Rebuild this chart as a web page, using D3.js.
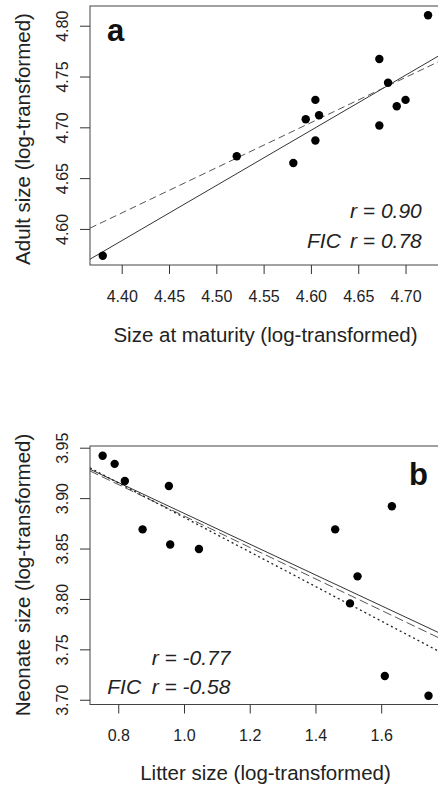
<!DOCTYPE html>
<html>
<head>
<meta charset="utf-8">
<title>Size correlations</title>
<script src="https://d3js.org/d3.v7.min.js"></script>
<style>
  body { margin: 0; background: #fff; }
  svg { display: block; font-family: "Liberation Sans", Arial, sans-serif; }
  .tick line, .domain { stroke: #333; }
</style>
</head>
<body>
<script>
// panel a: size at maturity vs adult size
var maturityA = [4.380, 4.5216, 4.5814, 4.5945, 4.6047, 4.6086, 4.6047, 4.6723, 4.6723, 4.6815, 4.6907, 4.700, 4.7238];
var adultA    = [4.5736, 4.6715, 4.6649, 4.708, 4.727, 4.7119, 4.687, 4.7672, 4.7018, 4.7438, 4.7208, 4.727, 4.8103];
var xTicksA = [4.40, 4.45, 4.50, 4.55, 4.60, 4.65, 4.70];
var yTicksA = [4.60, 4.65, 4.70, 4.75, 4.80];
// fitted lines: [intercept, slope]
var fitSolidA  = [2.1992, 0.543];
var fitDashedA = [2.6590, 0.4447];

// panel b: litter size vs neonate size
var litterB  = [0.7525, 0.789, 0.820, 0.954, 0.874, 0.958, 1.0455, 1.460, 1.6325, 1.528, 1.505, 1.611, 1.744];
var neonateB = [3.942, 3.934, 3.917, 3.912, 3.869, 3.854, 3.8495, 3.869, 3.892, 3.8224, 3.7956, 3.7235, 3.704];
var xTicksB = [0.8, 1.0, 1.2, 1.4, 1.6];
var yTicksB = [3.70, 3.75, 3.80, 3.85, 3.90, 3.95];
var fitSolidB  = [4.0377, -0.15275];
var fitDashedB = [4.0383, -0.15596];
var fitDottedB = [4.0523, -0.17136];

var W = 438, H = 787;
var svg = d3.select("body").append("svg").attr("width", W).attr("height", H);

function panel(cfg) {
  var x = d3.scaleLinear().domain(cfg.xlim).range([90, cfg.right]);
  var y = d3.scaleLinear().domain(cfg.ylim).range([cfg.bottom, cfg.top]);
  var g = svg.append("g");

  g.append("clipPath").attr("id", cfg.id + "clip")
    .append("rect").attr("x", 90).attr("y", cfg.top)
    .attr("width", cfg.right - 90).attr("height", cfg.bottom - cfg.top);

  // fitted lines
  cfg.fits.forEach(function(f) {
    g.append("line")
      .attr("clip-path", "url(#" + cfg.id + "clip)")
      .attr("x1", x(cfg.xlim[0])).attr("y1", y(f.c[0] + f.c[1] * cfg.xlim[0]))
      .attr("x2", x(cfg.xlim[1])).attr("y2", y(f.c[0] + f.c[1] * cfg.xlim[1]))
      .attr("stroke", f.color).attr("stroke-width", f.w)
      .attr("stroke-dasharray", f.dash);
  });

  // points
  g.selectAll("circle.pt").data(cfg.xs).enter().append("circle")
    .attr("class", "pt")
    .attr("cx", function(d) { return x(d); })
    .attr("cy", function(d, i) { return y(cfg.ys[i]); })
    .attr("r", 4.2).attr("fill", "#000");

  // box
  g.append("rect").attr("x", 90).attr("y", cfg.top)
    .attr("width", cfg.right - 90).attr("height", cfg.bottom - cfg.top)
    .attr("fill", "none").attr("stroke", "#444").attr("stroke-width", 1);

  // axes
  var xa = g.append("g").attr("transform", "translate(0," + cfg.bottom + ")")
    .call(d3.axisBottom(x).tickValues(cfg.xticks).tickSize(9).tickPadding(16.5)
      .tickFormat(d3.format(cfg.xfmt)));
  xa.select(".domain").remove();
  xa.selectAll("text").attr("font-size", 16).attr("fill", "#222").attr("font-family", null);

  var ya = g.append("g").attr("transform", "translate(90,0)")
    .call(d3.axisLeft(y).tickValues(cfg.yticks).tickSize(10).tickFormat(d3.format(".2f")));
  ya.select(".domain").remove();
  ya.selectAll("text")
    .attr("x", 0).attr("dy", null).attr("y", -22.5)
    .attr("transform", "rotate(-90)")
    .attr("text-anchor", "middle")
    .attr("font-size", 16).attr("fill", "#222").attr("font-family", null);

  // axis titles
  g.append("text").attr("x", 265.5).attr("y", cfg.xtitleY)
    .attr("text-anchor", "middle").attr("font-size", 20.5).attr("fill", "#222")
    .text(cfg.xtitle);
  g.append("text")
    .attr("transform", "translate(29.5," + cfg.ytitleY + ") rotate(-90)")
    .attr("text-anchor", "middle").attr("font-size", 20.5).attr("fill", "#222")
    .text(cfg.ytitle);

  // panel letter
  g.append("text").attr("x", cfg.letter[1]).attr("y", cfg.letter[2])
    .attr("font-size", 31).attr("font-weight", "bold").attr("fill", "#111")
    .text(cfg.letter[0]);

  // correlation notes
  cfg.notes.forEach(function(n) {
    g.append("text").attr("x", n[1]).attr("y", n[2])
      .attr("font-size", 21).attr("font-style", "italic").attr("fill", "#222")
      .text(n[0]);
  });
}

panel({
  id: "a", xlim: [4.3665, 4.738], ylim: [4.5645, 4.8194],
  right: 441.5, top: 6, bottom: 265,
  xs: maturityA, ys: adultA, xticks: xTicksA, yticks: yTicksA, xfmt: ".2f",
  fits: [
    { c: fitSolidA, color: "#333", w: 1, dash: null },
    { c: fitDashedA, color: "#555", w: 1, dash: "7,4" }
  ],
  xtitle: "Size at maturity (log-transformed)", xtitleY: 341.5,
  ytitle: "Adult size (log-transformed)", ytitleY: 139,
  letter: ["a", 107, 40.5],
  notes: [["r = 0.90", 350, 218.3], ["FIC", 307, 247.7], ["r = 0.78", 350, 247.7]]
});

panel({
  id: "b", xlim: [0.714, 1.785], ylim: [3.6953, 3.9517],
  right: 442, top: 446, bottom: 704.5,
  xs: litterB, ys: neonateB, xticks: xTicksB, yticks: yTicksB, xfmt: ".1f",
  fits: [
    { c: fitSolidB, color: "#333", w: 1, dash: null },
    { c: fitDashedB, color: "#555", w: 1, dash: "9,4" },
    { c: fitDottedB, color: "#222", w: 1.3, dash: "2,3" }
  ],
  xtitle: "Litter size (log-transformed)", xtitleY: 780,
  ytitle: "Neonate size (log-transformed)", ytitleY: 575,
  letter: ["b", 409, 484.5],
  notes: [["r = -0.77", 151.7, 665], ["FIC", 107.3, 694], ["r = -0.58", 151.7, 694]]
});
</script>
</body>
</html>
